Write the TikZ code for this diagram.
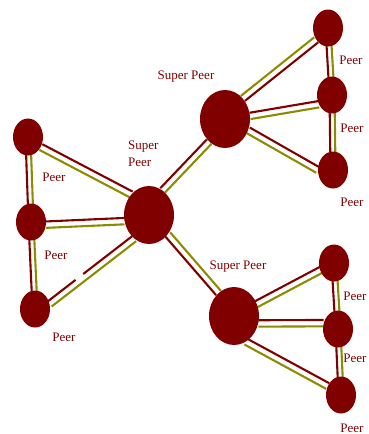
\documentclass[tikz,border=0pt]{standalone}
\usepackage{fontspec}
\setmainfont{Liberation Serif}
\usetikzlibrary{calc,shapes.geometric,backgrounds}
\definecolor{maroonc}{RGB}{128,0,0}
\definecolor{olivec}{RGB}{140,140,0}
\newcommand\gapd{3.2pt}
\newcommand\linkpair[4][3.2pt]{%
  \draw[redln] ($(#2)!#1!#4:(#3)$) -- ($(#3)!-#1!#4:(#2)$);
  \draw[oliveln] ($(#2)!-#1!#4:(#3)$) -- ($(#3)!#1!#4:(#2)$);}
\begin{document}
\begin{tikzpicture}[x=1pt,y=-1pt,
  sp/.style={ellipse, fill=maroonc, minimum width=50pt, minimum height=58pt, inner sep=0pt},
  pr/.style={ellipse, fill=maroonc, minimum width=30pt, minimum height=37pt, inner sep=0pt},
  lbl/.style={text=maroonc, font=\fontsize{13}{17}\selectfont, inner sep=0pt},
  redln/.style={draw=maroonc, line width=2.1pt},
  oliveln/.style={draw=olivec, line width=2.1pt}]
\useasboundingbox (0,0) rectangle (369,434);
% super peers
\node[sp] (c) at (149,215) {};
\node[sp] (ts) at (225,119) {};
\node[sp] (bs) at (234,316) {};
% left peers
\node[pr] (tl) at (28,137) {};
\node[pr] (ml) at (31,222) {};
\node[pr] (bl) at (35,309) {};
% top-right peers
\node[pr] (tp1) at (328,28) {};
\node[pr] (tp2) at (332,95) {};
\node[pr] (tp3) at (333,170) {};
% bottom-right peers
\node[pr] (bp1) at (334,263) {};
\node[pr] (bp2) at (338,329) {};
\node[pr] (bp3) at (341,395) {};
% labels
\node[lbl] (l1) at (186,77) {Super Peer};
\node[lbl, anchor=north west, align=left] (l2) at (128,141) {Super\\Peer};
\node[lbl] (l3) at (238,267) {Super Peer};
\node[lbl] (l4) at (54,177) {Peer};
\node[lbl] (l5) at (56,255) {Peer};
\node[lbl] (l6) at (64,337) {Peer};
\node[lbl] (l7) at (351,60) {Peer};
\node[lbl] (l8) at (352,128) {Peer};
\node[lbl] (l9) at (352,202) {Peer};
\node[lbl] (l10) at (355,296) {Peer};
\node[lbl] (l11) at (355,358) {Peer};
\node[lbl] (l12) at (352,428) {Peer};
\begin{pgfonlayer}{background}
\linkpair{tl.-38}{c.131}{90}
\linkpair{ml.-10}{c.194}{90}
\coordinate (r1) at ($(bl.19)!\gapd!90:(c.238)$);
\coordinate (r2) at ($(c.238)!-\gapd!90:(bl.19)$);
\draw[redln] (r1) -- ($(r1)!0.33!(r2)$) ($(r1)!0.42!(r2)$) -- (r2);
\draw[oliveln] ($(bl.19)!-\gapd!90:(c.238)$) -- ($(c.238)!\gapd!90:(bl.19)$);
\linkpair[2.5pt]{ml.center}{tl.center}{90}
\linkpair[2.5pt]{bl.center}{ml.center}{90}
\linkpair{c.61}{ts.235}{90}
\linkpair{c.-46}{bs.124}{-90}
\linkpair{ts.49}{tp1.225}{-90}
\linkpair{ts.7}{tp2.215}{90}
\linkpair{ts.-26}{tp3.180}{90}
\linkpair[2.5pt]{tp2.center}{tp1.center}{90}
\linkpair[2.5pt]{tp3.center}{tp2.center}{90}
\linkpair{bs.center}{bp1.center}{90}
\linkpair{bs.-17}{bp2.158}{90}
\linkpair{bs.-65}{bp3.146}{90}
\linkpair[2.5pt]{bp2.center}{bp1.center}{90}
\linkpair[2.5pt]{bp3.center}{bp2.center}{90}
\end{pgfonlayer}
\end{tikzpicture}
\end{document}
